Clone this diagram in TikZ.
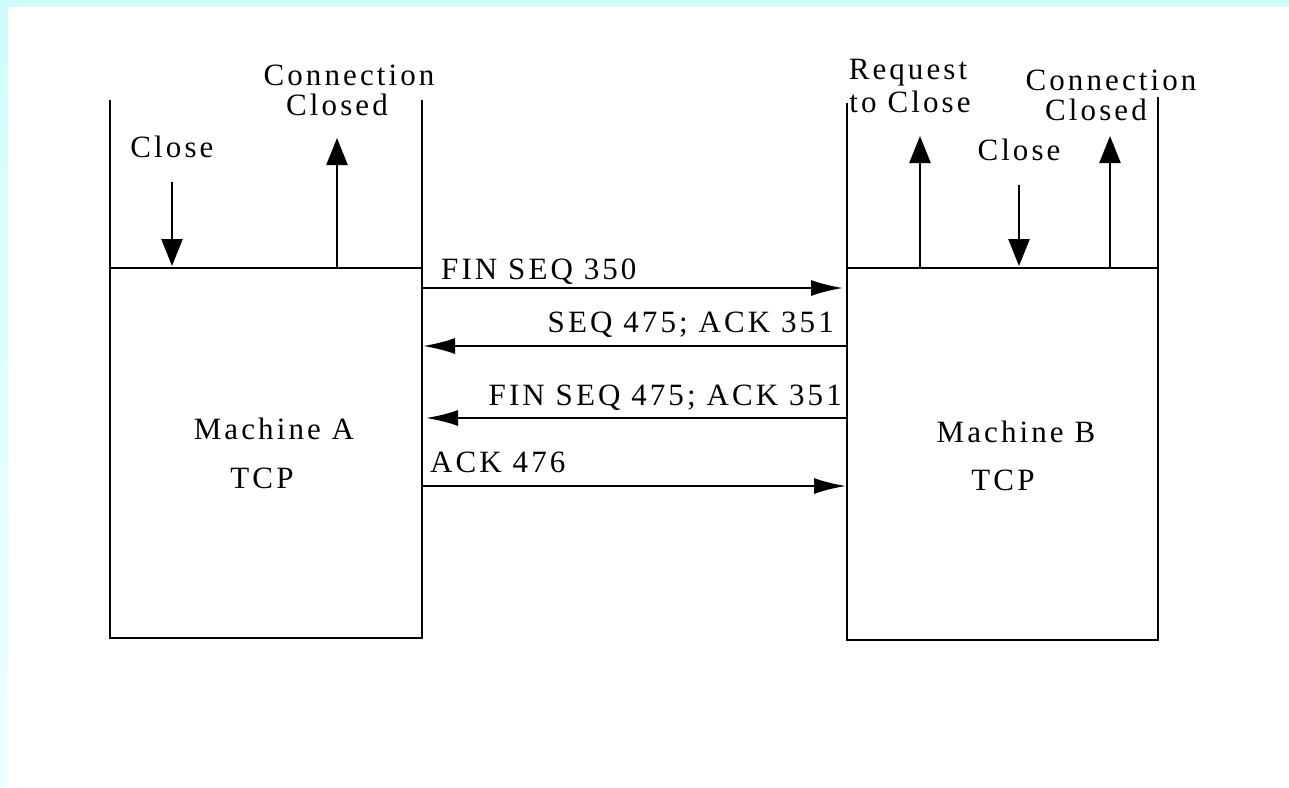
\documentclass[tikz,border=0pt]{standalone}
\usepackage{fontspec}
\setmainfont{Liberation Serif}[LetterSpace=10]
\usetikzlibrary{arrows.meta}
\definecolor{cyanbg}{HTML}{D0FCFC}
\definecolor{cyanpale}{HTML}{EEFFFF}
\tikzset{
  lbl/.style={font=\fontsize{31}{35}\selectfont, inner sep=0pt, anchor=base},
  boxline/.style={line width=2.4pt, black},
  vup/.style={line width=2.4pt, -{Triangle[length=27pt,width=21pt]}},
  hmsg/.style={line width=2.4pt, -{Latex[length=32pt,width=16pt]}},
}
\begin{document}
\begin{tikzpicture}[x=1pt,y=-1pt]
\useasboundingbox (0,0) rectangle (1289,787);
\fill[white] (0,0) rectangle (1289,787);
\shade[top color=cyanbg, bottom color=cyanpale] (0,0) rectangle (8,787);
\fill[cyanbg] (0,0) rectangle (1289,7);

% boxes
\node[boxline, draw, rectangle, minimum width=312pt, minimum height=370pt, inner sep=0pt, outer sep=0pt, anchor=north west] (A) at (110,268) {};
\node[boxline, draw, rectangle, minimum width=311pt, minimum height=372pt, inner sep=0pt, outer sep=0pt, anchor=north west] (B) at (847,268) {};

\coordinate (Atl) at (110,100);
\coordinate (Atr) at (422,100);
\coordinate (Btl) at (847,103);
\coordinate (Btr) at (1158,97);
\draw[boxline] (A.north west) -- (Atl);
\draw[boxline] (A.north east) -- (Atr);
\draw[boxline] (B.north west) -- (Btl);
\draw[boxline] (B.north east) -- (Btr);

% machine labels
\node[lbl] (mA) at (274,439) {Machine A};
\node[lbl] (tA) at (262,488) {TCP};
\node[lbl] (mB) at (1016,442) {Machine B};
\node[lbl] (tB) at (1003,490) {TCP};

% upper labels A
\node[lbl] (closeA) at (172,157) {Close};
\node[lbl] (connA) at (349,85) {Connection};
\node[lbl] (closedA) at (337,115) {Closed};

% upper labels B
\node[lbl] (reqB) at (908,79) {Request};
\node[lbl] (toB) at (910,112) {to Close};
\node[lbl] (closeB) at (1019,160) {Close};
\node[lbl] (connB) at (1111,90) {Connection};
\node[lbl] (closedB) at (1096,120) {Closed};

% vertical arrows
\coordinate (a1s) at (172,182);
\coordinate (a1e) at (172,266);
\draw[vup] (a1s) -- (a1e);
\coordinate (a2s) at (337,268);
\coordinate (a2e) at (337,138);
\draw[vup] (a2s) -- (a2e);
\coordinate (b1s) at (920,268);
\coordinate (b1e) at (920,136);
\draw[vup] (b1s) -- (b1e);
\coordinate (b2s) at (1019,185);
\coordinate (b2e) at (1019,266);
\draw[vup] (b2s) -- (b2e);
\coordinate (b3s) at (1110,268);
\coordinate (b3e) at (1110,136);
\draw[vup] (b3s) -- (b3e);

% messages
\coordinate (m1) at (0,288);
\coordinate (m2) at (0,346);
\coordinate (m3) at (0,418);
\coordinate (m4) at (0,486);
\draw[hmsg, shorten >=4pt] (A.east |- m1) -- (B.west |- m1);
\draw[hmsg, shorten >=1pt] (B.west |- m2) -- (A.east |- m2);
\draw[hmsg, shorten >=4pt] (B.west |- m3) -- (A.east |- m3);
\draw[hmsg, shorten >=1pt] (A.east |- m4) -- (B.west |- m4);

\node[lbl, anchor=base west] (l1) at (441,279) {FIN SEQ 350};
\node[lbl, anchor=base east] (l2) at (834,332) {SEQ 475; ACK 351};
\node[lbl, anchor=base east] (l3) at (842,405) {FIN SEQ 475; ACK 351};
\node[lbl, anchor=base west] (l4) at (430,472) {ACK 476};
\end{tikzpicture}
\end{document}
